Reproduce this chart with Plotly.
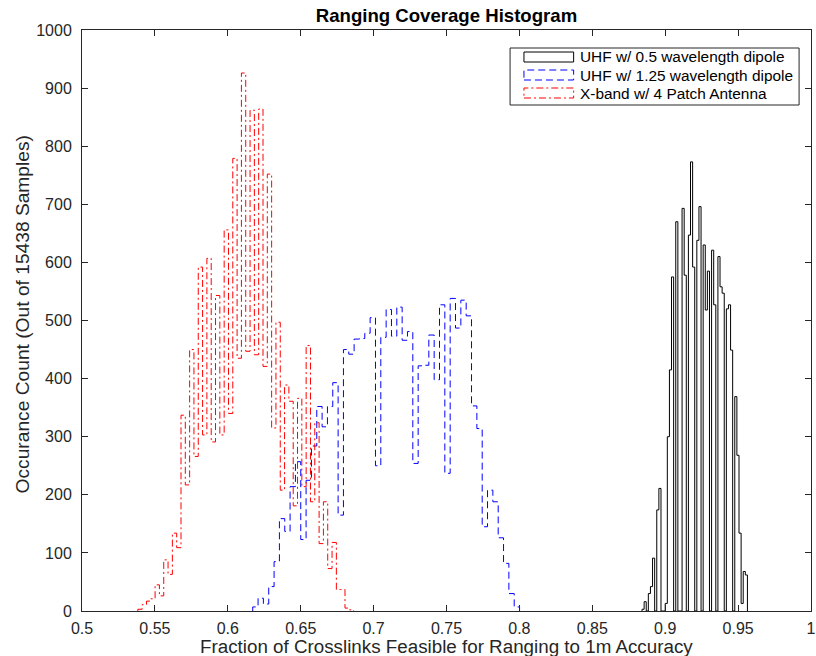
import numpy as np
import plotly.graph_objects as go

# ---------------- data ----------------
red_name = "X-band w/ 4 Patch Antenna"
blue_name = "UHF w/ 1.25 wavelength dipole"
black_name = "UHF w/ 0.5 wavelength dipole"

red_start, red_width = 0.5383, 0.00296
red_counts = [3, 11, 17, 21, 45, 26, 88, 63, 134, 109,
              337, 217, 450, 266, 592, 303, 607, 291, 543, 303,
              656, 340, 779, 435, 926, 447, 862, 441, 864, 421,
              752, 315, 497, 208, 389, 361, 181, 366, 214, 457,
              188, 324, 116, 188, 73, 118, 37, 37, 5, 2]

blue_start, blue_width = 0.6171, 0.00366
blue_counts = [7, 22, 12, 42, 85, 159, 137, 214, 257, 123,
               225, 284, 352, 317, 352, 393, 165, 450, 442, 468,
               469, 478, 505, 250, 471, 519, 473, 523, 466, 481,
               254, 422, 423, 475, 398, 527, 237, 538, 487, 535,
               508, 353, 314, 145, 208, 188, 126, 82, 30, 7]

black_start, black_width = 0.8841, 0.001446
black_counts = [3, 16, 0, 30, 42, 91, 0, 174, 211, 0,
                0, 13, 300, 415, 575, 0, 670, 0, 0, 693,
                578, 0, 647, 773, 592, 0, 638, 696, 0, 630,
                518, 585, 0, 621, 527, 0, 610, 558, 547, 0,
                520, 527, 449, 0, 369, 268, 134, 13, 68, 62]

x_tick_vals = [0.5, 0.55, 0.6, 0.65, 0.7, 0.75, 0.8, 0.85, 0.9, 0.95, 1.0]
x_tick_text = ["0.5", "0.55", "0.6", "0.65", "0.7", "0.75", "0.8", "0.85", "0.9", "0.95", "1"]
y_tick_vals = [0, 100, 200, 300, 400, 500, 600, 700, 800, 900, 1000]

title_text = "Ranging Coverage Histogram"
x_label = "Fraction of Crosslinks Feasible for Ranging to 1m Accuracy"
y_label = "Occurance Count (Out of 15438 Samples)"

# ---------------- helpers ----------------
W, H = 816, 656
L, R, T, B = 82, 0, 30, 45
PW, PH = W - L - R, H - T - B
FONT = "Liberation Sans, Arial, Helvetica, sans-serif"
AXC = "#262626"


def stairs(start, width, counts):
    edges = start + width * np.arange(len(counts) + 1)
    x = [edges[0]] + list(edges[:-1]) + [edges[-1]]
    y = [0] + list(counts) + [0]
    return x, y


def pxx(p):
    return (p - L) / PW


def pxy(p):
    return (T + PH - p) / PH


fig = go.Figure()
series = [
    (black_name, black_start, black_width, black_counts, "black", "solid"),
    (blue_name, blue_start, blue_width, blue_counts, "blue", "7px,4px"),
    (red_name, red_start, red_width, red_counts, "red", "7px,3px,2px,3px"),
]
for name, s, w, c, col, dash in series:
    x, y = stairs(s, w, c)
    fig.add_trace(go.Scatter(x=x, y=y, mode="lines", name=name,
                             line=dict(color=col, width=1, dash=dash, shape="hv"),
                             showlegend=False, hoverinfo="skip"))

# ---------------- manual legend (MATLAB-style box) ----------------
shapes = [dict(type="rect", xref="paper", yref="paper",
               x0=pxx(513), x1=pxx(804), y0=pxy(48), y1=pxy(105),
               line=dict(color=AXC, width=1), fillcolor="white", layer="above")]
annotations = []
row_y = [57, 75, 93]
for (name, s, w, c, col, dash), yy in zip(series, row_y):
    shapes.append(dict(type="rect", xref="paper", yref="paper",
                       x0=pxx(527), x1=pxx(577), y0=pxy(yy + 5), y1=pxy(yy - 5),
                       line=dict(color=col, width=1, dash=dash), layer="above"))
    annotations.append(dict(text=name, xref="paper", yref="paper",
                            x=pxx(581), y=pxy(yy), xanchor="left", yanchor="middle",
                            showarrow=False, font=dict(family=FONT, size=15.4, color="black")))

annotations.append(dict(text=x_label, xref="paper", yref="paper", x=0.5, y=pxy(646),
                        xanchor="center", yanchor="middle", showarrow=False,
                        font=dict(family=FONT, size=18.8, color=AXC)))
annotations.append(dict(text=y_label, xref="paper", yref="paper", x=pxx(22), y=pxy(314),
                        xanchor="center", yanchor="middle", textangle=-90, showarrow=False,
                        font=dict(family=FONT, size=19.2, color=AXC)))

fig.update_layout(
    width=W, height=H, autosize=False,
    margin=dict(l=L, r=R, t=T, b=B),
    paper_bgcolor="white", plot_bgcolor="white",
    title=dict(text="<b>" + title_text + "</b>", x=0.5, xref="paper",
               y=1 - 15 / H, yref="container", xanchor="center", yanchor="middle",
               font=dict(family=FONT, size=18.6, color="black")),
    shapes=shapes, annotations=annotations,
    showlegend=False,
    xaxis=dict(range=[0.5, 1.0], tickvals=x_tick_vals, ticktext=x_tick_text,
               ticks="inside", ticklen=6, tickcolor=AXC, showline=True, linecolor=AXC,
               linewidth=1, mirror="ticks", showgrid=False, zeroline=False,
               ticklabeloverflow="allow",
               tickfont=dict(family=FONT, size=16, color=AXC), ticklabelstandoff=3),
    yaxis=dict(range=[0, 1000], tickvals=y_tick_vals,
               ticks="inside", ticklen=6, tickcolor=AXC, showline=True, linecolor=AXC,
               linewidth=1, mirror="ticks", showgrid=False, zeroline=False,
               ticklabeloverflow="allow",
               tickfont=dict(family=FONT, size=16, color=AXC), ticklabelstandoff=6),
)

post_js = (
    "document.documentElement.style.margin='0';"
    "document.documentElement.style.overflow='hidden';"
    "document.body.style.margin='0';"
    "document.body.style.overflow='hidden';"
    "var gd=document.getElementById('{plot_id}');"
    "Plotly.relayout(gd,{width:816,height:656});"
)

fig.write_html("out.html", post_script=post_js,
               config={"responsive": False, "displayModeBar": False})
